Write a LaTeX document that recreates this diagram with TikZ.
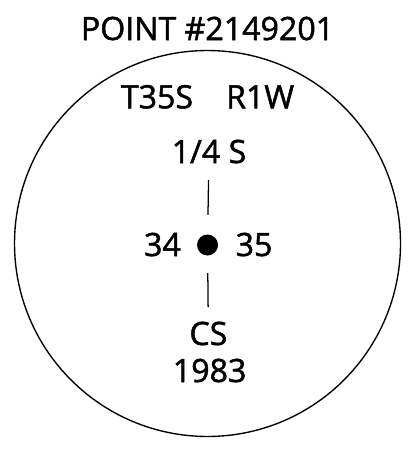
\documentclass[tikz,border=0pt]{standalone}
\usepackage{fontspec}
\setmainfont{Open Sans}
\newfontfamily\markfont[FakeBold=1.5]{Open Sans}
\usepackage{tikz}
\tikzset{
  ptext/.style={inner sep=0pt, anchor=base, font=\markfont\fontsize{30.5}{36}\selectfont, text depth=0pt},
  tick/.style={line width=1.2pt}
}

\begin{document}
\begin{tikzpicture}
  \useasboundingbox (-6.917,-6.85) rectangle (6.983,8.117);
  \draw[line width=1.3pt] (0,0) circle (6.433cm);
  \node[ptext] (title) at (0.0,6.783) {POINT \#2149201};
  \node[ptext] (twp) at (0.0,4.507) {T35S\hspace{1.1cm}R1W};
  \node[ptext] (quarter) at (0.05,2.683) {1/4 S};
  \node[circle, fill=black, inner sep=0pt, minimum size=0.7cm] (dot) at (0.0,-0.05) {};
  \node[ptext] (sw) at (-1.5,-0.417) {34};
  \node[ptext] (se) at (1.55,-0.417) {35};
  \node[ptext] (cs) at (0.03,-3.383) {CS};
  \node[ptext] (year) at (0.07,-4.617) {1983};
  \draw[tick, shorten <=0.65cm, shorten >=0.567cm] (dot) -- (quarter);
  \draw[tick, shorten <=0.583cm, shorten >=0.48cm] (dot) -- (cs);
\end{tikzpicture}
\end{document}
